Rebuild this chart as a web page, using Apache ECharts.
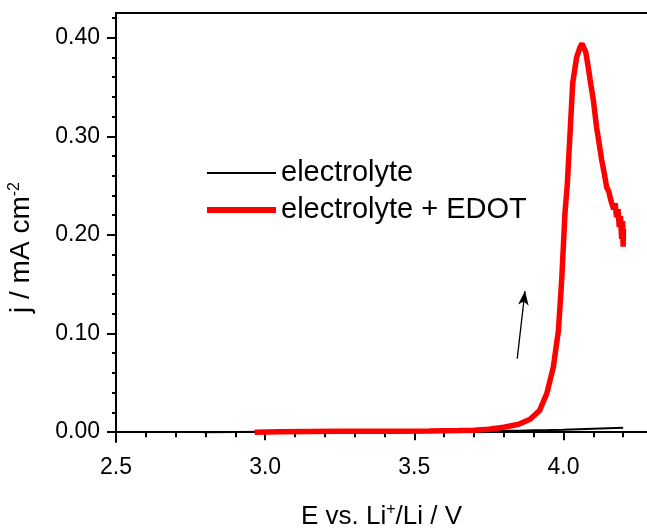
<!DOCTYPE html>
<html>
<head>
<meta charset="utf-8">
<script src="https://cdn.jsdelivr.net/npm/echarts@6/dist/echarts.min.js"></script>
<style>html,body{margin:0;padding:0;background:#fff}#c{width:647px;height:528px}</style>
</head>
<body>
<div id="c"></div>
<script>
// ---- data ----
const blackE = [2.79, 2.9, 3.0, 3.1, 3.2, 3.3, 3.4, 3.5, 3.6, 3.7, 3.8, 3.85, 3.9, 3.95, 4.0, 4.05, 4.1, 4.15, 4.2];
const blackJ = [0.0, 0.0002, 0.0003, 0.0004, 0.0005, 0.0006, 0.0007, 0.0008, 0.0009, 0.0011, 0.0013, 0.0015, 0.0018, 0.0021, 0.0025, 0.003, 0.0035, 0.004, 0.0045];
const redE = [2.965, 3.05, 3.15, 3.25, 3.35, 3.45, 3.55, 3.65, 3.7, 3.75, 3.8, 3.85, 3.888, 3.92, 3.944, 3.966, 3.983, 3.994, 4.005, 4.013, 4.022, 4.031, 4.044, 4.055, 4.062, 4.068, 4.075, 4.083, 4.092, 4.1, 4.106, 4.111, 4.12, 4.128, 4.137, 4.145, 4.152, 4.158, 4.163, 4.168, 4.173, 4.178, 4.183, 4.187, 4.191, 4.195, 4.198, 4.2, 4.201];
const redJ = [0.0, 0.0004, 0.0006, 0.0008, 0.0009, 0.001, 0.0012, 0.0016, 0.002, 0.003, 0.005, 0.008, 0.013, 0.022, 0.039, 0.066, 0.103, 0.154, 0.222, 0.252, 0.303, 0.354, 0.380, 0.390, 0.394, 0.392, 0.385, 0.370, 0.352, 0.337, 0.322, 0.309, 0.292, 0.276, 0.262, 0.248, 0.244, 0.236, 0.238, 0.226, 0.232, 0.218, 0.226, 0.208, 0.219, 0.196, 0.214, 0.188, 0.206];
const seriesNames = ['electrolyte', 'electrolyte + EDOT'];
const xMajor = [2.5, 3.0, 3.5, 4.0];
const xMinor = [2.6, 2.7, 2.8, 2.9, 3.1, 3.2, 3.3, 3.4, 3.6, 3.7, 3.8, 3.9, 4.1, 4.2];
const yMajor = [0.0, 0.1, 0.2, 0.3, 0.4];
const yMinor = [0.02, 0.04, 0.06, 0.08, 0.12, 0.14, 0.16, 0.18, 0.22, 0.24, 0.26, 0.28, 0.32, 0.34, 0.36, 0.38, 0.42];
const arrowFrom = [3.845, 0.0745];
const arrowTo = [3.871, 0.143];
// ---------------------------------------

const FONT = '"Liberation Sans", Arial, sans-serif';
const zip = (a, b) => a.map((v, i) => [v, b[i]]);
const chart = echarts.init(document.getElementById('c'), null, {renderer: 'canvas'});

const axisLineStyle = {color: '#000', width: 2};
const baseX = {type: 'value', min: 2.5, max: 4.28, gridIndex: 0};
const baseY = {type: 'value', min: -0.01, max: 0.425, gridIndex: 0};
const supStyle = {fontFamily: FONT, fontSize: 16, color: '#000', verticalAlign: 'top', padding: [0, 0, 13, 0]};

chart.setOption({
  animation: false,
  backgroundColor: '#fff',
  grid: {left: 116, right: 0, top: 13, bottom: 86, containLabel: false, outerBoundsMode: 'none'},
  legend: {
    orient: 'vertical', left: 199, top: 153,
    itemWidth: 69, itemHeight: 14, itemGap: 7,
    itemStyle: {opacity: 0},
    textStyle: {fontFamily: FONT, fontSize: 29, color: '#000', lineHeight: 30},
    data: [
      {name: seriesNames[0], lineStyle: {width: 2, color: '#000'}},
      {name: seriesNames[1], lineStyle: {width: 6, color: '#ff0000'}}
    ],
    selectedMode: false
  },
  xAxis: [
    Object.assign({}, baseX, {
      position: 'bottom',
      axisLine: {show: true, lineStyle: axisLineStyle},
      axisTick: {show: true, length: 8, lineStyle: {color: '#000', width: 2}, customValues: xMajor},
      axisLabel: {show: true, customValues: xMajor, margin: 14, fontFamily: FONT, fontSize: 23, color: '#000',
        formatter: v => v.toFixed(1)},
      splitLine: {show: false},
      name: 'E vs. Li{sup|+}/Li / V', nameLocation: 'middle', nameGap: 60,
      nameTextStyle: {fontFamily: FONT, fontSize: 26, color: '#000', rich: {sup: supStyle}}
    }),
    Object.assign({}, baseX, {
      position: 'bottom',
      axisLine: {show: false},
      axisTick: {show: true, length: 5, lineStyle: {color: '#000', width: 2}, customValues: xMinor},
      axisLabel: {show: false}, splitLine: {show: false}
    }),
    Object.assign({}, baseX, {
      position: 'top',
      axisLine: {show: true, lineStyle: axisLineStyle},
      axisTick: {show: false}, axisLabel: {show: false}, splitLine: {show: false}
    })
  ],
  yAxis: [
    Object.assign({}, baseY, {
      position: 'left',
      axisLine: {show: true, lineStyle: axisLineStyle},
      axisTick: {show: true, length: 9, lineStyle: {color: '#000', width: 2}, customValues: yMajor},
      axisLabel: {show: true, customValues: yMajor, margin: 16, fontFamily: FONT, fontSize: 23, color: '#000',
        formatter: v => v.toFixed(2)},
      splitLine: {show: false},
      name: 'j / mA cm{sup|-2}', nameLocation: 'middle', nameGap: 80, nameRotate: 90,
      nameTextStyle: {fontFamily: FONT, fontSize: 28, color: '#000', padding: [0, 40, 0, 0], rich: {sup: supStyle}}
    }),
    Object.assign({}, baseY, {
      position: 'left',
      axisLine: {show: false},
      axisTick: {show: true, length: 4, lineStyle: {color: '#000', width: 2}, customValues: yMinor},
      axisLabel: {show: false}, splitLine: {show: false}
    })
  ],
  series: [
    {
      name: seriesNames[0], type: 'line', xAxisIndex: 0, yAxisIndex: 0,
      data: zip(blackE, blackJ), showSymbol: false, symbol: 'none',
      lineStyle: {color: '#000', width: 2}, itemStyle: {color: '#000'},
      silent: true, z: 3,
      markLine: {
        silent: true, animation: false,
        symbol: ['none', 'arrow'], symbolSize: [8, 14],
        lineStyle: {color: '#000', width: 1.3, type: 'solid'},
        label: {show: false},
        data: [[{coord: arrowFrom}, {coord: arrowTo}]]
      }
    },
    {
      name: seriesNames[1], type: 'line', xAxisIndex: 0, yAxisIndex: 0,
      data: zip(redE, redJ), showSymbol: false, symbol: 'none',
      lineStyle: {color: '#ff0000', width: 5.5}, itemStyle: {color: '#ff0000'},
      silent: true, z: 4
    }
  ]
});
</script>
</body>
</html>
